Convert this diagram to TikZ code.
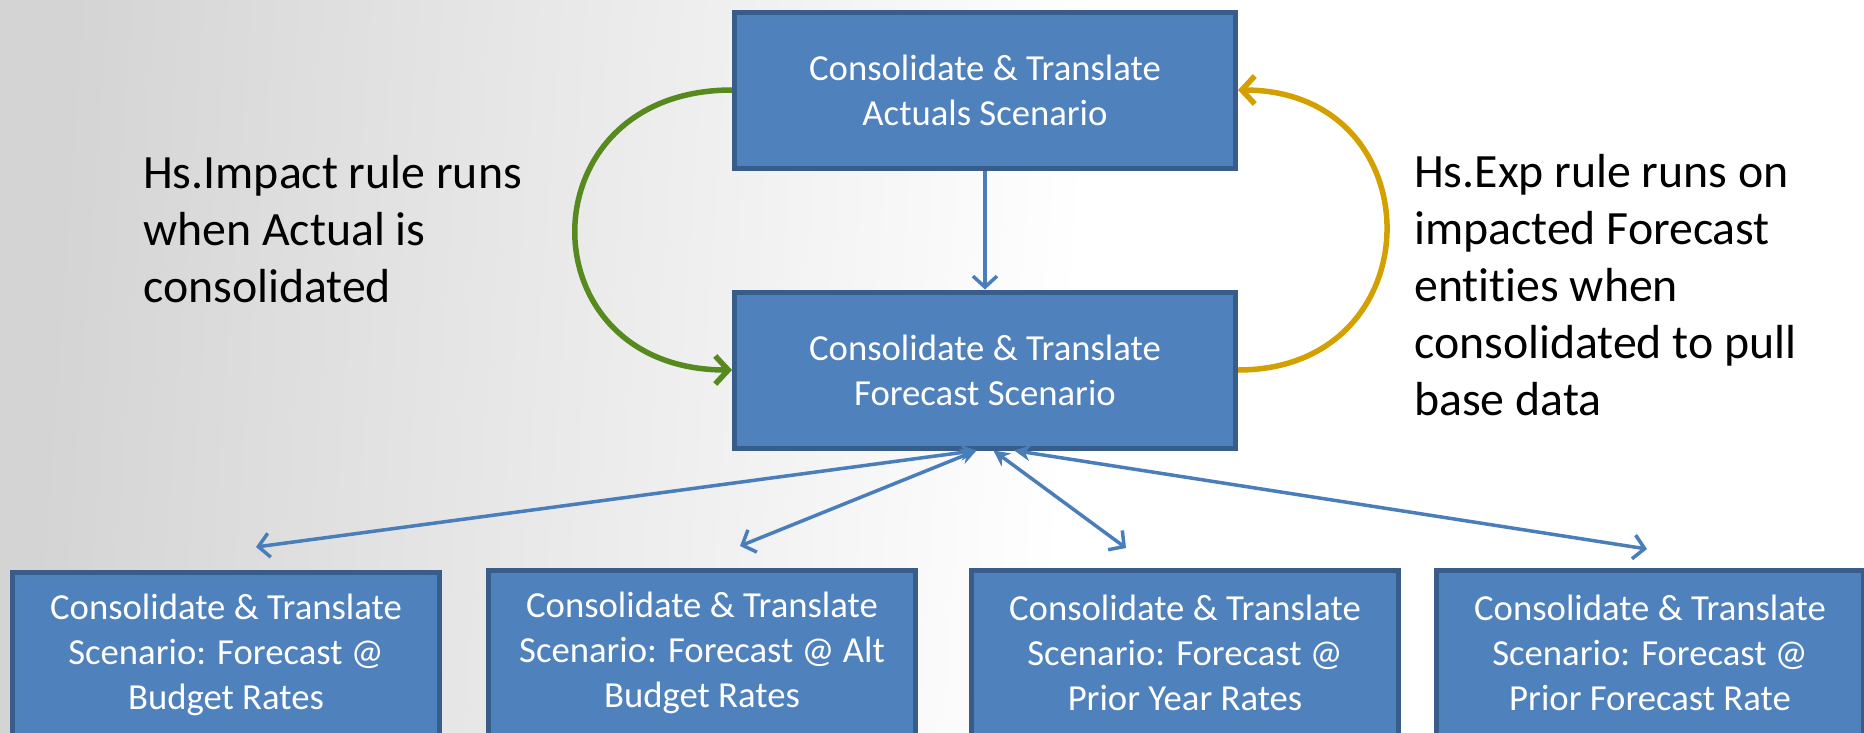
\documentclass[tikz,border=0pt]{standalone}
\usepackage{fontspec}
\setmainfont{Carlito}
\usetikzlibrary{arrows.meta}
\definecolor{boxfill}{HTML}{4F81BD}
\definecolor{boxline}{HTML}{385D8A}
\definecolor{linkblue}{HTML}{4A7EBB}
\definecolor{impactgreen}{HTML}{578A1E}
\definecolor{expgold}{HTML}{D4A000}
\pgfdeclarehorizontalshading{slidebg}{100bp}{color(0bp)=(black!17); color(25bp)=(black!17); color(54bp)=(white); color(100bp)=(white)}
\tikzset{
	scenbox/.style={draw=boxline, fill=boxfill, line width=5pt, text=white, align=center, inner sep=0pt, minimum width=501pt, minimum height=156pt, font=\fontsize{36.7}{45}\selectfont},
	subbox/.style={scenbox, minimum width=427pt, minimum height=165pt},
	note/.style={anchor=north west, align=left, inner sep=0pt, font=\fontsize{47.8}{57}\selectfont},
	link/.style={draw=linkblue, line width=3.5pt, -{Straight Barb[length=11pt,width=24pt]}},
	twoway/.style={draw=linkblue, line width=3.5pt, {Stealth[length=16pt,width=16pt]}-{Straight Barb[length=11pt,width=24pt]}},
	rulearc/.style={line width=5.5pt, -{Straight Barb[length=13pt,width=28pt]}}
}

\begin{document}
\begin{tikzpicture}[x=1pt, y=-1pt]
			%%%%% START %%%%%
			
			\useasboundingbox (0, 0) rectangle (1864, 732);
			\shade[shading=slidebg, shading angle=-4] (0, 0) rectangle (1864, 732);
			
			\node[scenbox] (actuals) at (985, 90) {Consolidate \& Translate\\Actuals Scenario};
			\node[scenbox] (forecast) at (985, 370) {Consolidate \& Translate\\Forecast Scenario};
			
			\node[subbox] (fcBudget) at (226, 655) {Consolidate \& Translate\\Scenario: Forecast @\\Budget Rates};
			\node[subbox] (fcAlt) at (702, 653) {Consolidate \& Translate\\Scenario: Forecast @ Alt\\Budget Rates};
			\node[subbox] (fcPrior) at (1185, 653) {Consolidate \& Translate\\Scenario: Forecast @\\Prior Year Rates};
			\node[subbox] (fcPriorFc) at (1650, 653) {Consolidate \& Translate\\Scenario: Forecast @\\Prior Forecast Rate};
			
			\node[note] (impactNote) at (143, 155) {Hs.Impact rule runs\\when Actual is\\consolidated};
			\node[note] (expNote) at (1414, 154) {Hs.Exp rule runs on\\impacted Forecast\\ent\kern0pt it\kern0pt ies when\\consolidated to pull\\base data};
			
			\draw[link] (actuals.south) -- (forecast.north);
			\draw[rulearc, impactgreen] (actuals.west) to[out=180, in=180, looseness=1.91] (forecast.west);
			\draw[rulearc, expgold] (forecast.east) to[out=0, in=0, looseness=1.81] (actuals.east);
			
			\coordinate (toBudget) at (256, 547);
			\coordinate (toAlt) at (740, 546);
			\coordinate (toPrior) at (1126, 548);
			\coordinate (toPriorFc) at (1647, 549);
			
			\draw[twoway] (forecast.264) -- (toBudget);
			\draw[twoway] (forecast.264) -- (toAlt);
			\draw[twoway] (forecast.276) -- (toPrior);
			\draw[twoway] (forecast.290) -- (toPriorFc);
			
			%%%%% END %%%%%
\end{tikzpicture}
\end{document}
